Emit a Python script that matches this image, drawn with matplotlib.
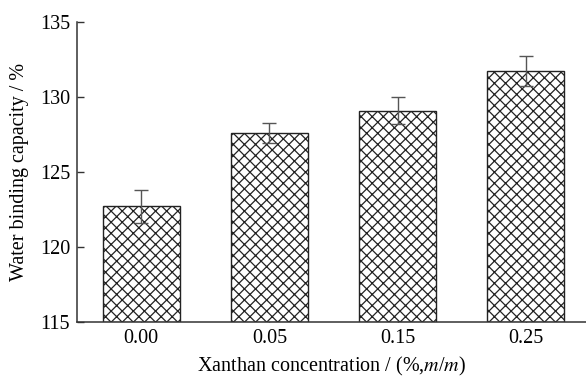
import matplotlib
matplotlib.use('Agg')
import matplotlib.pyplot as plt

# data
concs = ['0.00', '0.05', '0.15', '0.25']
wbc = [122.7, 127.6, 129.1, 131.75]
wbc_err = [1.1, 0.65, 0.87, 1.0]

plt.rcParams['font.family'] = ['Liberation Serif', 'DejaVu Serif']
plt.rcParams['mathtext.fontset'] = 'stix'
plt.rcParams['hatch.linewidth'] = 0.9
plt.rcParams['hatch.color'] = '#222222'

fig = plt.figure(figsize=(5.86, 3.78), dpi=100)
ax = fig.add_axes([77/586, 56/378, 1 - 77/586, 300/378])

pos = list(range(len(concs)))
ax.bar(pos, [v - 115 for v in wbc], bottom=115, width=0.6, color='white',
       edgecolor='#222222', linewidth=1.0, hatch='xxx', zorder=2)
ax.errorbar(pos, wbc, yerr=wbc_err, fmt='none', ecolor='#555555',
            elinewidth=1.0, capsize=5, capthick=1.0, zorder=3)

ax.set_xlim(-0.5, 3.47)
ax.set_ylim(115, 135)
ax.set_yticks([115, 120, 125, 130, 135])
ax.set_xticks(pos)
ax.set_xticklabels(concs)

for s in ['top', 'right']:
    ax.spines[s].set_visible(False)
for s in ['left', 'bottom']:
    ax.spines[s].set_linewidth(1.1)
    ax.spines[s].set_color('#333333')
ax.tick_params(direction='in', length=5, width=1.0, color='#333333',
               labelsize=14.5, pad=5)

ax.set_ylabel('Water binding capacity / %', fontsize=14.5, labelpad=8)
ax.set_xlabel('Xanthan concentration / (%,$m$/$m$)', fontsize=14.5, labelpad=5)

fig.savefig('out.png', dpi=100)
